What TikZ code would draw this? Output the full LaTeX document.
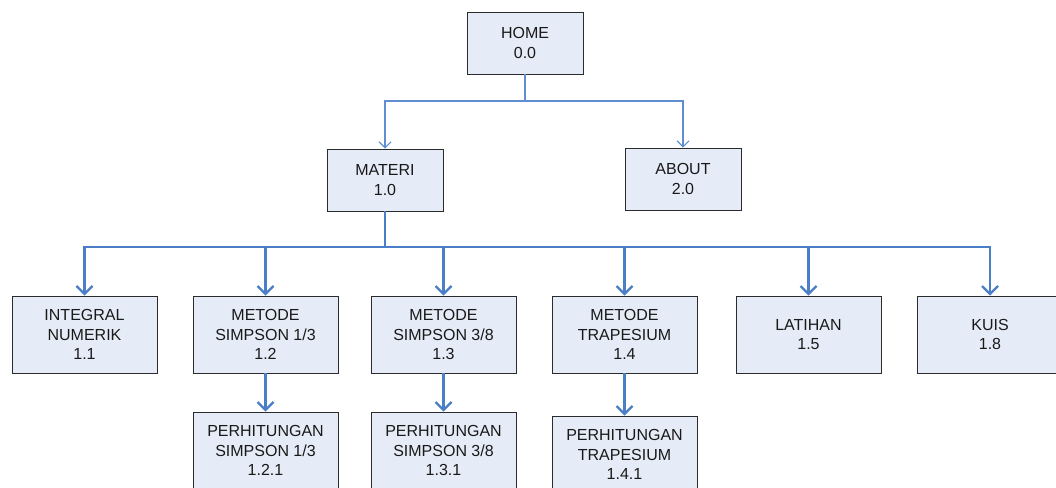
\documentclass[tikz,border=0pt]{standalone}
\usepackage{fontspec}
\setmainfont{Liberation Sans}
\usetikzlibrary{arrows.meta}
\definecolor{boxfill}{HTML}{E6ECF7}
\definecolor{boxline}{HTML}{2B2B2B}
\definecolor{thinlink}{HTML}{5F8ED2}
\definecolor{thicklink}{HTML}{4A7EC6}
\tikzset{
  menubox/.style={draw=boxline, fill=boxfill, line width=0.9pt,
    minimum width=145pt, minimum height=77pt, inner sep=0pt,
    align=center, text=black!90, font=\fontsize{16}{19.5}\selectfont},
  topbox/.style={menubox, minimum width=116pt, minimum height=62pt},
  thinlinkst/.style={draw=thinlink, line width=1.1pt,
    -{Straight Barb[length=6pt,width=12pt]}},
  thicklinkst/.style={draw=thicklink, line width=2.2pt,
    -{Straight Barb[length=8pt,width=16pt]}}
}
\begin{document}
\begin{tikzpicture}[x=1pt,y=-1pt]
\useasboundingbox (0,0) rectangle (1056,487);
\clip (0,0) rectangle (1056,487);

% top level
\node[topbox] (home)   at (525,43)    {HOME\\0.0};
\node[topbox] (materi) at (385,180)   {MATERI\\1.0};
\node[topbox] (about)  at (683,179)   {ABOUT\\2.0};

% second level
\node[menubox] (integral) at (84.5,334.5)  {INTEGRAL\\NUMERIK\\1.1};
\node[menubox] (simtiga)  at (265.5,334.5) {METODE\\SIMPSON 1/3\\1.2};
\node[menubox] (simdelan) at (443.5,334.5) {METODE\\SIMPSON 3/8\\1.3};
\node[menubox] (trapes)   at (624.5,334.5) {METODE\\TRAPESIUM\\1.4};
\node[menubox] (latihan)  at (808.5,334.5) {LATIHAN\\1.5};
\node[menubox] (kuis)     at (990,334.5)   {KUIS\\1.8};

% third level
\node[menubox] (htiga)  at (265.5,450.5) {PERHITUNGAN\\SIMPSON 1/3\\1.2.1};
\node[menubox] (hdelan) at (443.5,450.5) {PERHITUNGAN\\SIMPSON 3/8\\1.3.1};
\node[menubox] (htrap)  at (624.5,454.5) {PERHITUNGAN\\TRAPESIUM\\1.4.1};

% links from HOME
\coordinate (split) at (525,101);
\draw[thinlinkst] (home.south) -- (split) -| (materi.north);
\draw[thinlinkst] (home.south) -- (split) -| (about.north);

% links from MATERI
\coordinate (bus) at (385,247);
\foreach \t in {integral,simtiga,simdelan,trapes,latihan,kuis}
  \draw[thicklinkst] (materi.south) -- (bus) -| (\t.north);

% links to the calculation pages
\draw[thicklinkst] (simtiga.south)  -- (htiga.north);
\draw[thicklinkst] (simdelan.south) -- (hdelan.north);
\draw[thicklinkst] (trapes.south)   -- (htrap.north);
\end{tikzpicture}
\end{document}
